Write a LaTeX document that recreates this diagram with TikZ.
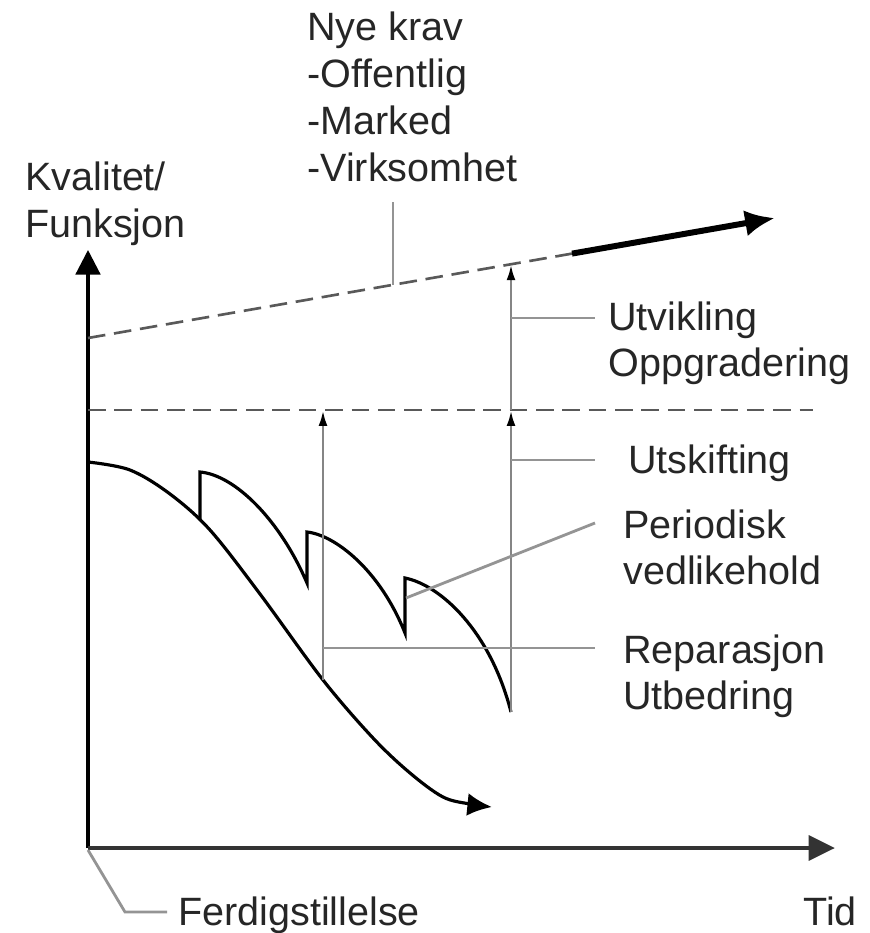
\documentclass[tikz,border=0pt]{standalone}
\usepackage{fontspec}
\setmainfont{Liberation Sans}
\usetikzlibrary{arrows.meta}
\tikzset{
  lbl/.style={anchor=north west, inner sep=0pt, align=left, text=black!85,
    font=\fontsize{22.5}{26.6}\selectfont},
  leader/.style={draw=black!42, line width=1.6pt},
  guide/.style={draw=black!48, line width=1.6pt},
  life/.style={draw=black, line width=1.8pt},
  uptip/.style={-{Latex[length=9pt,width=5pt,black]}},
  dashline/.style={draw=black!65, line width=1.5pt, dash pattern=on 10pt off 5pt}
}
\begin{document}
\begin{tikzpicture}[x=0.02cm, y=-0.02cm]
\fill[white] (0,0) rectangle (869,933);
\useasboundingbox (0,0) rectangle (869,933);
% axes
\coordinate (O) at (88,848);
\coordinate (ytop) at (88,250);
\coordinate (xend) at (835,848);
\draw[line width=1.8pt, -{Triangle[length=14pt,width=14pt]}] (O) -- (ytop);
\draw[black!80, line width=2.6pt, -{Triangle[length=15pt,width=14pt]}] (O) -- (xend);
% labels
\node[lbl] (kval) at (25,162) {Kvalitet/\\Funksjon};
\node[lbl] (krav) at (307,12) {Nye krav\\-Offentlig\\-Marked\\-Virksomhet};
\node[lbl] (utv) at (608,301) {Utvikling\\Oppgradering};
\node[lbl] (utsk) at (628,444) {Utskifting};
\node[lbl] (per) at (623,509) {Periodisk\\vedlikehold};
\node[lbl] (rep) at (623,634) {Reparasjon\\Utbedring};
\node[lbl] (ferd) at (178,896) {Ferdigstillelse};
\node[lbl] (tid) at (803,896) {Tid};
% demand lines
\coordinate (q0) at (88,338);
\coordinate (qk) at (393,284.8);
\coordinate (qv) at (511,264.2);
\coordinate (qs) at (572,253.6);
\coordinate (q1) at (775,218);
\draw[dashline] (q0) -- (qs);
\draw[line width=3.4pt, -{Latex[length=17pt,width=15pt]}] (qs) -- (q1);
\coordinate (h0) at (88,410);
\coordinate (h1) at (813,410);
\draw[dashline] (h0) -- (h1);
\coordinate (k0) at (393,202);
\draw[leader] (k0) -- (qk);
% quality curves
\draw[life, -{Latex[length=14pt,width=13pt]}] plot[smooth, tension=0.55] coordinates
  {(88,462) (130,470) (170,494) (210,530) (260,594) (323,680) (373,738) (410,773) (443,797) (470,804) (492,807)};
\draw[life, line join=miter] (200,520) -- (200,472)
  .. controls (235,475) and (280,520) .. (307,583) -- (307,532)
  .. controls (335,535) and (380,570) .. (405,633) -- (405,578)
  .. controls (440,585) and (490,630) .. (511,712);
% measures
\coordinate (v1b) at (323,680);
\coordinate (v2b) at (511,712);
\draw[guide, uptip] (v1b) -- (v1b |- h0);
\draw[guide, uptip] (v2b) -- (v2b |- h0);
\draw[guide, uptip] (v2b |- h0) -- (qv);
% leaders
\coordinate (u0) at (511,318);
\coordinate (u1) at (595,318);
\draw[leader] (u0) -- (u1);
\coordinate (s0) at (511,460);
\coordinate (s1) at (595,460);
\draw[leader] (s0) -- (s1);
\coordinate (p0) at (406,598);
\coordinate (p1) at (595,523);
\draw[leader] (p0) -- (p1);
\coordinate (r0) at (323,648);
\coordinate (r1) at (595,648);
\draw[leader] (r0) -- (r1);
\coordinate (f0) at (88,850);
\coordinate (f1) at (125,912);
\coordinate (f2) at (167,912);
\draw[leader] (f0) -- (f1) -- (f2);
\end{tikzpicture}
\end{document}
